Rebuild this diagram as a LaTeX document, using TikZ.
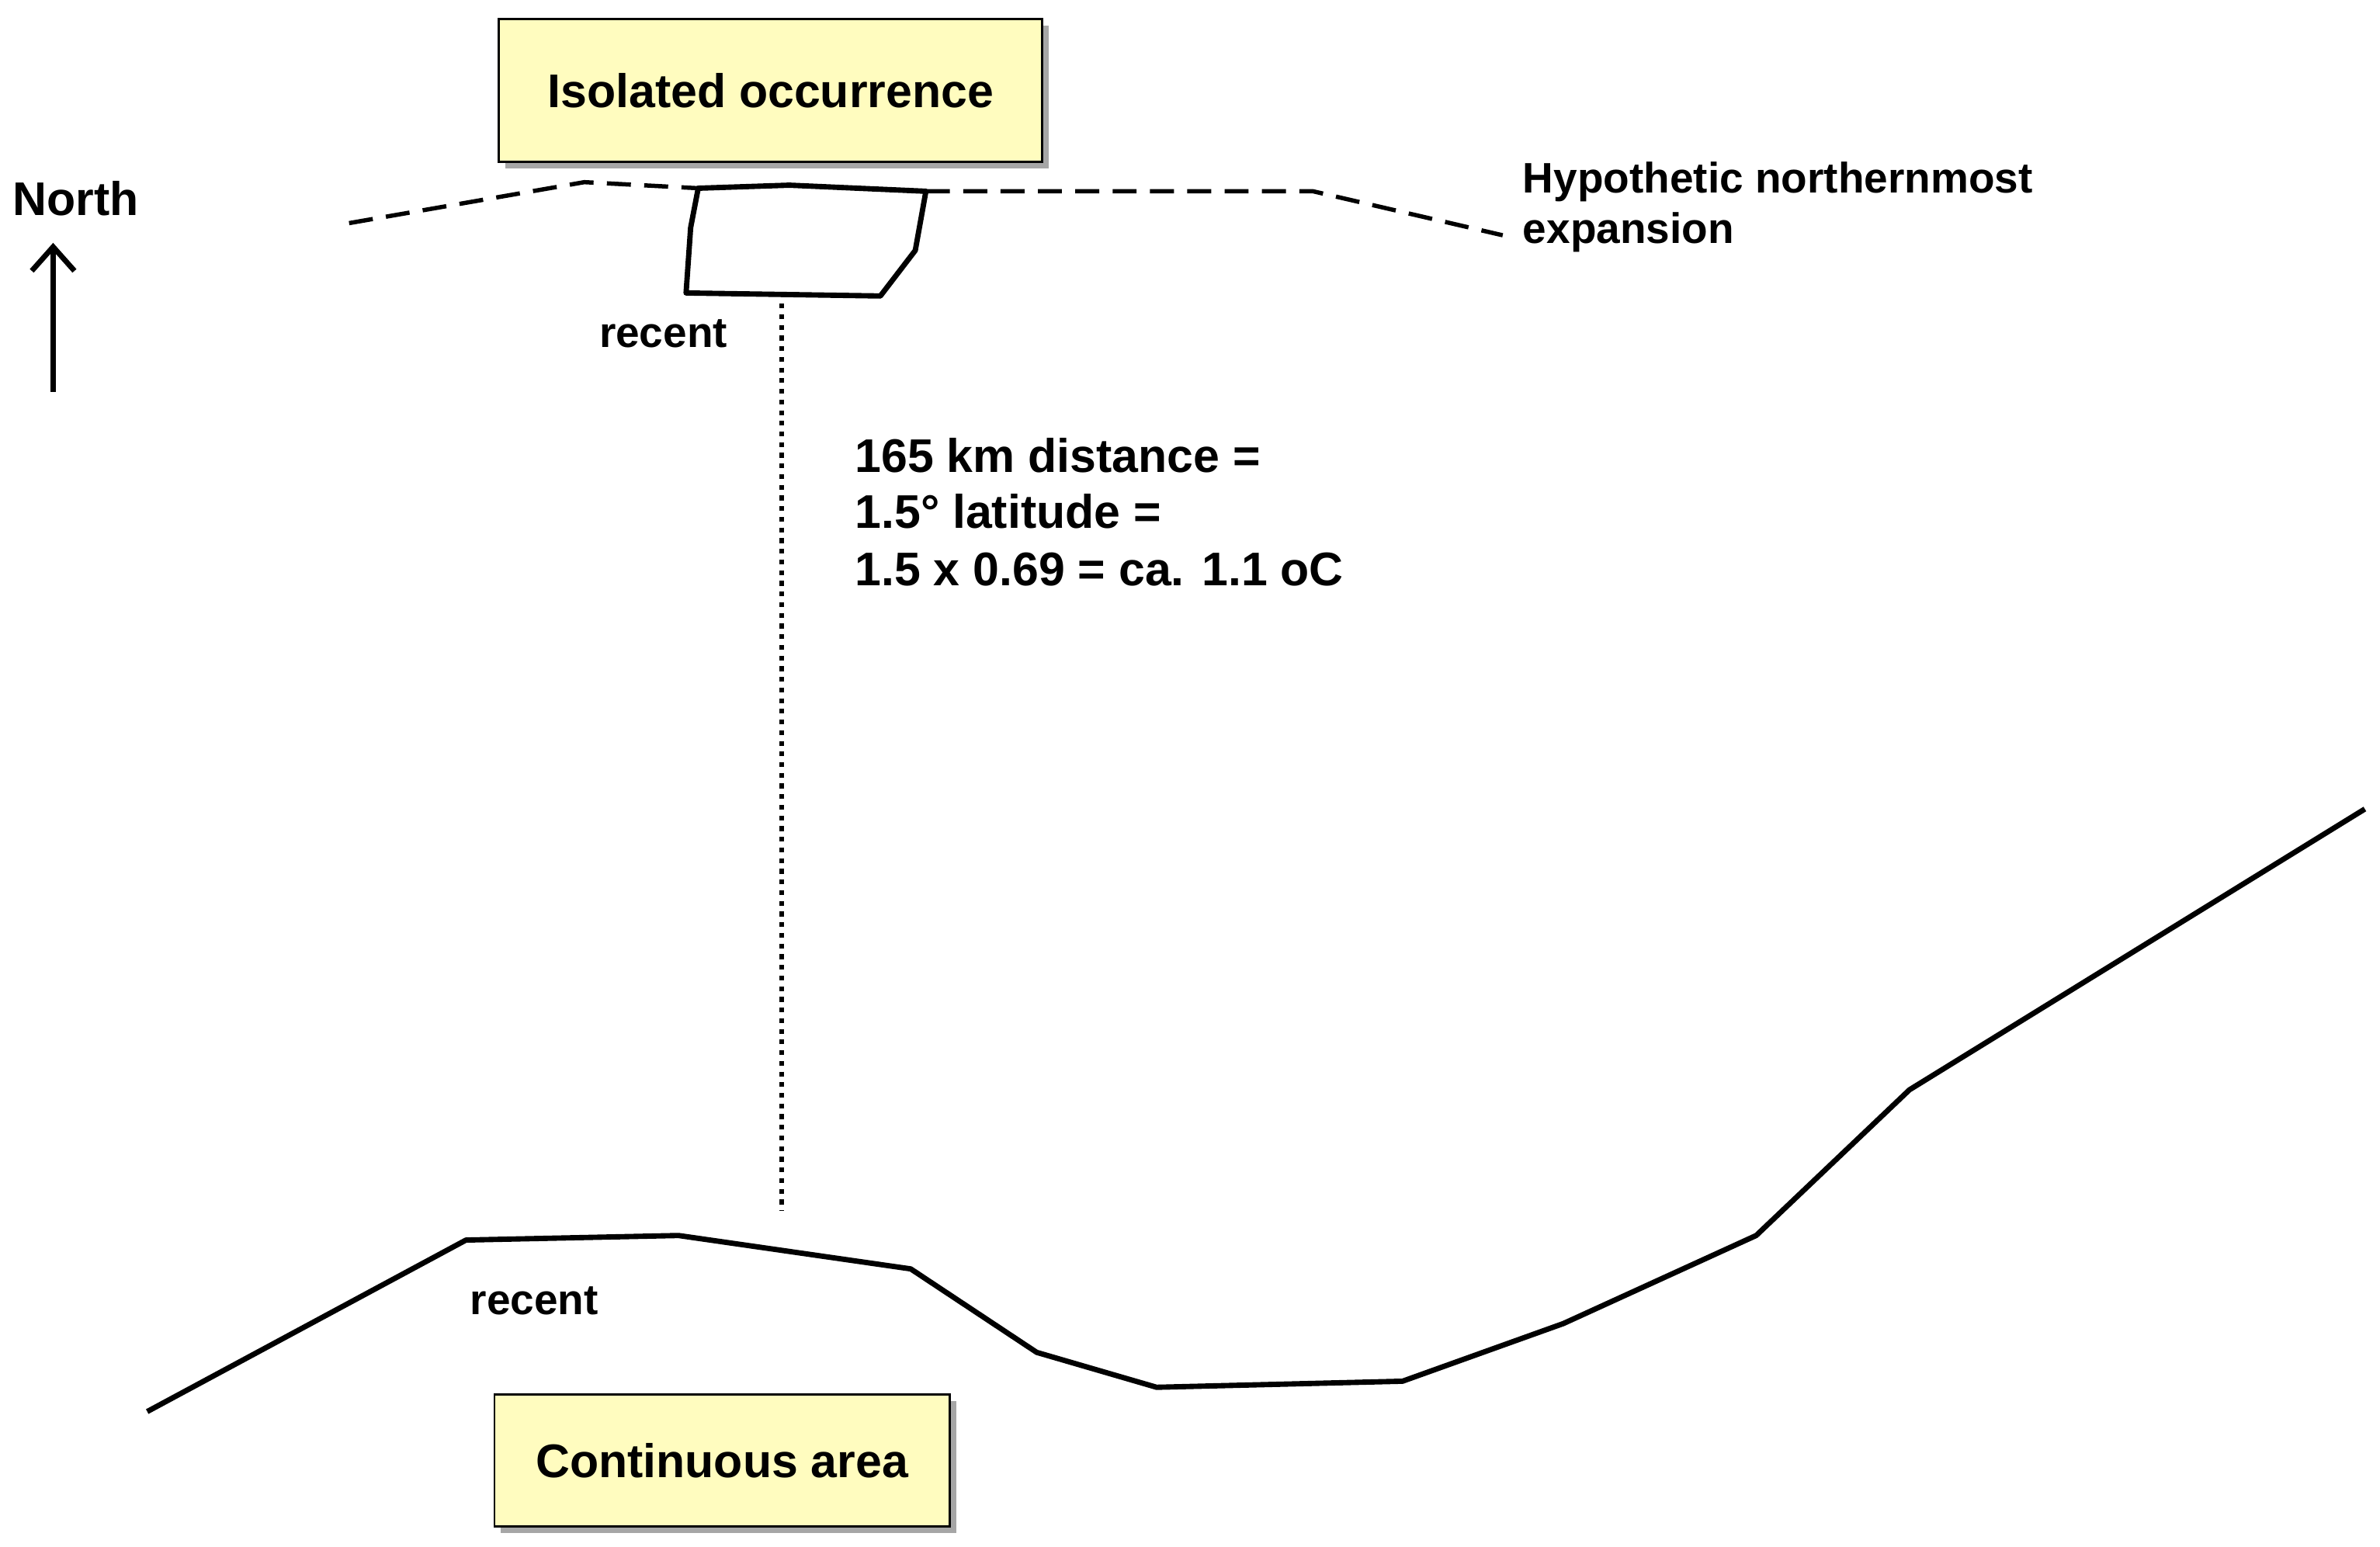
\documentclass[tikz,border=0pt]{standalone}
\usepackage{fontspec}
\setmainfont{Liberation Sans}
\usetikzlibrary{arrows.meta}
\begin{document}
\begin{tikzpicture}[x=0.02cm,y=-0.02cm,
  lbl/.style={font=\bfseries\fontsize{17.7}{21}\selectfont,inner sep=0pt},
  sm/.style={font=\bfseries\fontsize{16}{19}\selectfont,inner sep=0pt},
  box/.style={draw=black,line width=0.8pt,fill=yellow!25!white,font=\bfseries\fontsize{17.7}{21}\selectfont},
  ln/.style={line width=2pt}]
\useasboundingbox (0,0) rectangle (1568,1019);
\fill[gray!70] (333,17) rectangle (691,111);
\node[box,minimum width=358*0.02cm,minimum height=94*0.02cm,anchor=north west] (iso) at (328,12) {Isolated occurrence};
\fill[gray!70] (330,923) rectangle (630,1010);
\node[box,minimum width=300*0.02cm,minimum height=87*0.02cm,anchor=north west] (cont) at (325,918) {Continuous area};
\node[lbl,anchor=west] (north) at (8,131) {North};
\coordinate (na) at (35,258); \coordinate (nb) at (35,160);
\draw[ln,-{Straight Barb[length=9pt,width=16pt,line width=2pt]}] (na) -- (nb);
\draw[line width=1.6pt,dash pattern=on 9pt off 5pt] (230,147) -- (385,120) -- (460,124);
\draw[line width=1.6pt,dash pattern=on 9pt off 5pt] (610,126) -- (865,126) -- (990,155);
\draw[ln,line join=round] (460,124) -- (520,122) -- (610,126) -- (603,165) -- (580,195) -- (452,193) -- (455,150) -- cycle;
\node[sm] (r1) at (437,220) {recent};
\coordinate (d1) at (515,200); \coordinate (d2) at (515,798);
\draw[line width=1.8pt,dash pattern=on 1.8pt off 2.2pt] (d1) -- (d2);
\node[lbl,anchor=west] (t1) at (563,300) {165 km distance =};
\node[lbl,anchor=west] (t2) at (563,337) {1.5° latitude =};
\node[lbl,anchor=west] (t3) at (563,375) {1.5 x 0.69 = ca. 1.1 oC};
\node[sm,anchor=west] (h1) at (1003,120) {Hypothetic northernmost};
\node[sm,anchor=west] (h2) at (1003,153) {expansion};
\draw[ln,line join=round] (97,930) -- (307,817) -- (447,814) -- (600,836) -- (683,891) -- (762,914) -- (924,910) -- (1030,872) -- (1157,814) -- (1258,718) -- (1558,533);
\node[sm] (r2) at (352,857) {recent};
\end{tikzpicture}
\end{document}
